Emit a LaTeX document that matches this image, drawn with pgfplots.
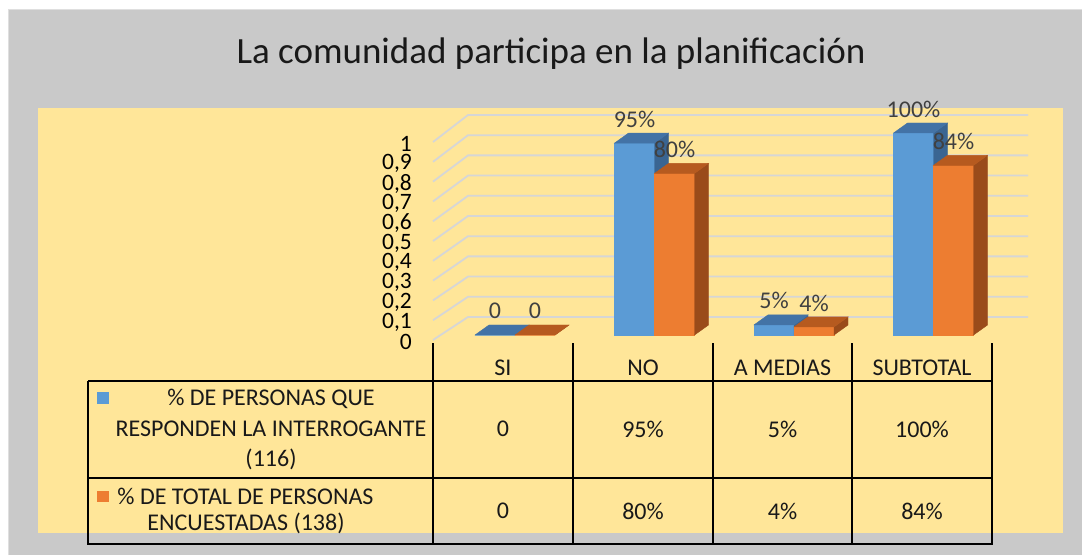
\documentclass[border=0pt]{standalone}
\usepackage{pgfplots}
\pgfplotsset{compat=1.18}
\usepackage{pgfplotstable}
\usepackage{fontspec}
\setmainfont{Carlito}
\definecolor{bggray}{HTML}{C9C9C9}
\definecolor{plotyel}{HTML}{FFE699}
\definecolor{blueFront}{HTML}{5B9BD5}
\definecolor{blueTop}{HTML}{4373A6}
\definecolor{blueSide}{HTML}{3A6592}
\definecolor{orangeFront}{HTML}{ED7D31}
\definecolor{orangeTop}{HTML}{B65A1F}
\definecolor{orangeSide}{HTML}{9A4B1A}
\definecolor{gridc}{HTML}{D6D6D6}
\definecolor{labc}{HTML}{404040}

\pgfplotstableread{
x y lab
0 0    0
1 0.95 95\%
2 0.05 5\%
3 1.00 100\%
}\tblA
\pgfplotstableread{
x y lab
0 0    0
1 0.80 80\%
2 0.04 4\%
3 0.84 84\%
}\tblB

\pgfdeclareplotmark{prismA}{%
  \pgfmathsetmacro\h{\rawy*202}%
  \pgfmathsetmacro\hh{10-\h}%
  \fill[blueFront] (-40pt,0pt) rectangle (0pt,-\h pt);
  \fill[blueSide] (0pt,0pt) -- (14pt,10pt) -- (14pt,\hh pt) -- (0pt,-\h pt) -- cycle;
  \fill[blueTop] (-40pt,0pt) -- (-26pt,10pt) -- (14pt,10pt) -- (0pt,0pt) -- cycle;
}
\pgfdeclareplotmark{prismB}{%
  \pgfmathsetmacro\h{\rawy*202}%
  \pgfmathsetmacro\hh{10-\h}%
  \fill[orangeFront] (0pt,0pt) rectangle (40pt,-\h pt);
  \fill[orangeSide] (40pt,0pt) -- (54pt,10pt) -- (54pt,\hh pt) -- (40pt,-\h pt) -- cycle;
  \fill[orangeTop] (0pt,0pt) -- (14pt,10pt) -- (54pt,10pt) -- (40pt,0pt) -- cycle;
}

\newcommand{\tf}{\fontsize{24}{24}\selectfont}
\begin{document}
\begin{tikzpicture}[x=1pt,y=1pt]
\useasboundingbox (0,0) rectangle (1082,555);
\fill[white] (0,0) rectangle (1082,555);
\fill[bggray] (8,0) rectangle (1082,546);
\draw[color=gray!25, line width=1pt] (8.5,0) -- (8.5,545.5) -- (1082,545.5);
\fill[plotyel] (38,22) rectangle (1063,447);

% title
\node[anchor=base, font=\fontsize{37}{37}\selectfont, text=black!90] at (551,491) {La comunidad participa en la planificación};

% back wall grid
\foreach \k in {0,...,10}{
  \draw[gridc, line width=1.8pt] (433,{215+19.8*\k}) -- (468,{238+20.2*\k}) -- (1028,{238+20.2*\k});
}

% y tick labels
\begin{axis}[at={(433pt,215pt)}, anchor=south west, x=1pt, y=198pt,
  xmin=0, xmax=1, ymin=0, ymax=1,
  axis line style={draw=none}, xtick=\empty,
  ytick={0,0.1,0.2,0.3,0.4,0.5,0.6,0.7,0.8,0.9,1},
  major tick length=0pt,
  yticklabel style={anchor=east, inner sep=0pt, xshift=-21pt, yshift=-2pt, font=\fontsize{23.5}{23.5}\selectfont},
  /pgf/number format/.cd, use comma, fixed, precision=1, assume math mode=true]
\end{axis}

% bars
\begin{axis}[at={(445.25pt,220pt)}, anchor=south west, x=139.5pt, y=202pt,
  xmin=-0.5, xmax=3.5, ymin=0, ymax=1, hide axis, clip=false,
  point meta=explicit symbolic,
  nodes near coords,
  every node near coord/.append style={anchor=center, yshift=24pt, font=\fontsize{24}{24}\selectfont, text=labc}]
\addplot[only marks, mark=prismA,
  visualization depends on={rawy \as \rawy},
  every node near coord/.append style={xshift=-20pt}]
  table[x=x, y=y, meta=lab] {\tblA};
\addplot[only marks, mark=prismB,
  visualization depends on={rawy \as \rawy},
  every node near coord/.append style={xshift=20pt}]
  table[x=x, y=y, meta=lab] {\tblB};
\end{axis}

% data table
\begin{scope}[line width=2pt, black]
\draw (88,174) -- (992,174);
\draw (88,77) -- (992,77);
\draw (87,11) -- (993,11);
\draw (88,174) -- (88,11);
\foreach \xx in {433,573,713,852,992}{ \draw (\xx,212) -- (\xx,11); }
\end{scope}
\begin{scope}[font=\tf, text=black!90]
\node at (503,187) {SI};
\node at (643,187) {NO};
\node at (782.5,187) {A MEDIAS};
\node at (922,187) {SUBTOTAL};
\node at (503,126) {0};
\node at (643,126) {95\%};
\node at (782.5,126) {5\%};
\node at (922,126) {100\%};
\node at (503,44) {0};
\node at (643,44) {80\%};
\node at (782.5,44) {4\%};
\node at (922,44) {84\%};
\node at (271,156) {\% DE PERSONAS QUE};
\node at (271,126) {RESPONDEN LA INTERROGANTE};
\node at (271,96) {(116)};
\node at (245.5,59) {\% DE TOTAL DE PERSONAS};
\node at (246,32) {ENCUESTADAS (138)};
\end{scope}
\fill[blueFront] (97,151) rectangle (109,163);
\fill[orangeFront] (97,53) rectangle (109,64);
\end{tikzpicture}
\end{document}
